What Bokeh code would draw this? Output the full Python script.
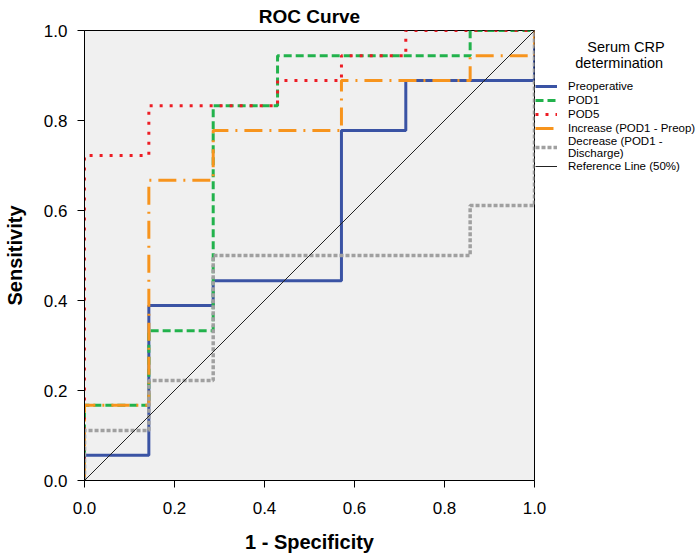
from bokeh.plotting import figure
from bokeh.models import Range1d, Legend, LegendItem, FixedTicker, PrintfTickFormatter
from bokeh.embed import file_html
from bokeh.resources import INLINE

# ROC step vertices (1 - specificity, sensitivity)
pre_fpr = [0, 0, 0.143, 0.143, 0.286, 0.286, 0.571, 0.571, 0.714, 0.714, 1, 1]
pre_tpr = [0, 0.056, 0.056, 0.389, 0.389, 0.444, 0.444, 0.778, 0.778, 0.889, 0.889, 1]

pod1_fpr = [0, 0, 0.143, 0.143, 0.286, 0.286, 0.429, 0.429, 0.857, 0.857, 1]
pod1_tpr = [0, 0.167, 0.167, 0.333, 0.333, 0.833, 0.833, 0.944, 0.944, 1, 1]

pod5_fpr = [0, 0, 0.143, 0.143, 0.429, 0.429, 0.571, 0.571, 0.714, 0.714, 1]
pod5_tpr = [0, 0.722, 0.722, 0.833, 0.833, 0.889, 0.889, 0.944, 0.944, 1, 1]

inc_fpr = [0, 0, 0.143, 0.143, 0.286, 0.286, 0.571, 0.571, 0.857, 0.857, 1, 1]
inc_tpr = [0, 0.167, 0.167, 0.667, 0.667, 0.778, 0.778, 0.889, 0.889, 0.944, 0.944, 1]

dec_fpr = [0, 0, 0.143, 0.143, 0.286, 0.286, 0.857, 0.857, 1, 1]
dec_tpr = [0, 0.111, 0.111, 0.222, 0.222, 0.5, 0.5, 0.611, 0.611, 1]

ref_x = [0, 1]
ref_y = [0, 1]

ticks = [0.0, 0.2, 0.4, 0.6, 0.8, 1.0]
series_names = ["Preoperative", "POD1", "POD5", "Increase (POD1 - Preop)",
                "Decrease (POD1 -\nDischarge)", "Reference Line (50%)"]
legend_title = "             Serum CRP\n          determination"

FONT = "Liberation Sans"

p = figure(frame_width=450, frame_height=450, output_backend="svg", toolbar_location=None,
           x_range=Range1d(0, 1), y_range=Range1d(0, 1),
           min_border_left=83, min_border_right=164, min_border_top=30, min_border_bottom=73,
           title="ROC Curve")
p.title.align = "center"
p.title.text_font = FONT
p.title.text_font_size = "19px"
p.title.text_font_style = "bold"
p.title.text_color = "black"
p.title.standoff = 7

p.background_fill_color = "#f0f0f0"
p.border_fill_color = "white"
p.outline_line_color = "black"
p.outline_line_width = 1
p.grid.visible = False

for ax in (p.xaxis[0], p.yaxis[0]):
    ax.ticker = FixedTicker(ticks=ticks)
    ax.formatter = PrintfTickFormatter(format="%.1f")
    ax.minor_tick_line_color = None
    ax.major_tick_in = 0
    ax.major_tick_out = 7
    ax.major_tick_line_color = "black"
    ax.axis_line_color = "black"
    ax.major_label_text_font = FONT
    ax.major_label_text_font_size = "17px"
    ax.major_label_text_color = "black"
    ax.axis_label_text_font = FONT
    ax.axis_label_text_font_size = "20px"
    ax.axis_label_text_font_style = "bold"
    ax.axis_label_text_color = "black"

p.xaxis.axis_label = "1 - Specificity"
p.yaxis.axis_label = "Sensitivity"
p.xaxis.major_label_standoff = 14
p.yaxis.major_label_standoff = 10
p.xaxis.axis_label_standoff = 14
p.yaxis.axis_label_standoff = 15

r_pre = p.line(pre_fpr, pre_tpr, line_color="#3a53a4", line_width=3)
r_pod1 = p.line(pod1_fpr, pod1_tpr, line_color="#22b24c", line_width=3, line_dash="8 4")
r_pod5 = p.line(pod5_fpr, pod5_tpr, line_color="#ed1c24", line_width=3, line_dash="3 7")
r_inc = p.line(inc_fpr, inc_tpr, line_color="#f7941d", line_width=3, line_dash="18 7 2 7")
r_dec = p.line(dec_fpr, dec_tpr, line_color="#a0a0a0", line_width=3.5, line_dash="4 2")
r_ref = p.line(ref_x, ref_y, line_color="#222222", line_width=1)

renderers = [r_pre, r_pod1, r_pod5, r_inc, r_dec, r_ref]
legend = Legend(items=[LegendItem(label=n, renderers=[r]) for n, r in zip(series_names, renderers)],
                location=(1, 307), padding=0, margin=0, spacing=0,
                glyph_width=22, glyph_height=14, label_height=14, label_standoff=11,
                label_text_font=FONT, label_text_font_size="11.5px", label_text_color="black",
                label_text_line_height=1.05,
                title=legend_title, title_text_font=FONT, title_text_font_size="14.5px",
                title_text_font_style="normal", title_text_color="black",
                title_text_line_height=0.85, title_standoff=8,
                border_line_color=None, background_fill_alpha=0)
p.add_layout(legend, "right")

open("out.html", "w").write(file_html(p, INLINE))
